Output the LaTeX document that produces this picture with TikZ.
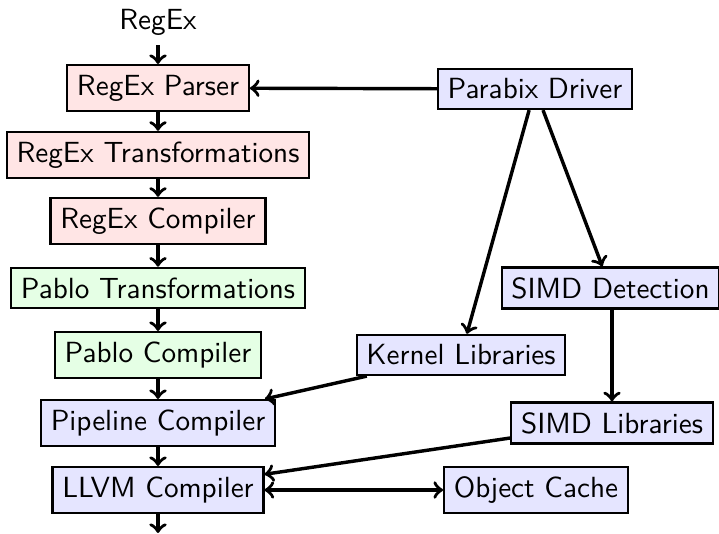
\documentclass[tikz,border=0pt]{standalone}
\usepackage{fontspec}
\begin{document}
\begin{tikzpicture}[x=0.3497pt,y=-0.3497pt,
  font=\sffamily\fontsize{10.2pt}{12pt}\selectfont,
  box/.style={draw,thick,inner sep=3.4pt},
  rbox/.style={box,fill=red!10},
  gbox/.style={box,fill=green!10},
  bbox/.style={box,fill=blue!10},
  arr/.style={->,very thick}]
\useasboundingbox (0,0) rectangle (719,534);
\node (regex) at (158,22) {RegEx};
\node[rbox] (parser) at (158,88) {RegEx Parser};
\node[rbox] (rtrans) at (158,155) {RegEx Transformations};
\node[rbox] (rcomp) at (158,221) {RegEx Compiler};
\node[gbox] (ptrans) at (158,288) {Pablo Transformations};
\node[gbox] (pcomp) at (158,355) {Pablo Compiler};
\node[bbox] (pipe) at (158,423) {Pipeline Compiler};
\node[bbox] (llvm) at (158,490) {LLVM Compiler};
\coordinate (out) at (158,533);
\node[bbox] (driver) at (535,89) {Parabix Driver};
\node[bbox] (simdd) at (610.5,288) {SIMD Detection};
\node[bbox] (kern) at (461,355) {Kernel Libraries};
\node[bbox] (simdl) at (612,423) {SIMD Libraries};
\node[bbox] (cache) at (536,490) {Object Cache};
\draw[arr] (regex) -- (parser);
\draw[arr] (parser) -- (rtrans);
\draw[arr] (rtrans) -- (rcomp);
\draw[arr] (rcomp) -- (ptrans);
\draw[arr] (ptrans) -- (pcomp);
\draw[arr] (pcomp) -- (pipe);
\draw[arr] (pipe) -- (llvm);
\draw[arr] (llvm) -- (out);
\draw[arr] (driver) -- (parser);
\draw[arr] (driver) -- (kern);
\draw[arr] (driver) -- (simdd);
\draw[arr] (simdd.south -| simdl.north) -- (simdl.north);
\draw[arr] (kern) -- (pipe);
\draw[arr] (simdl) -- (llvm);
\draw[<->,very thick] (llvm) -- (cache);
\end{tikzpicture}
\end{document}
